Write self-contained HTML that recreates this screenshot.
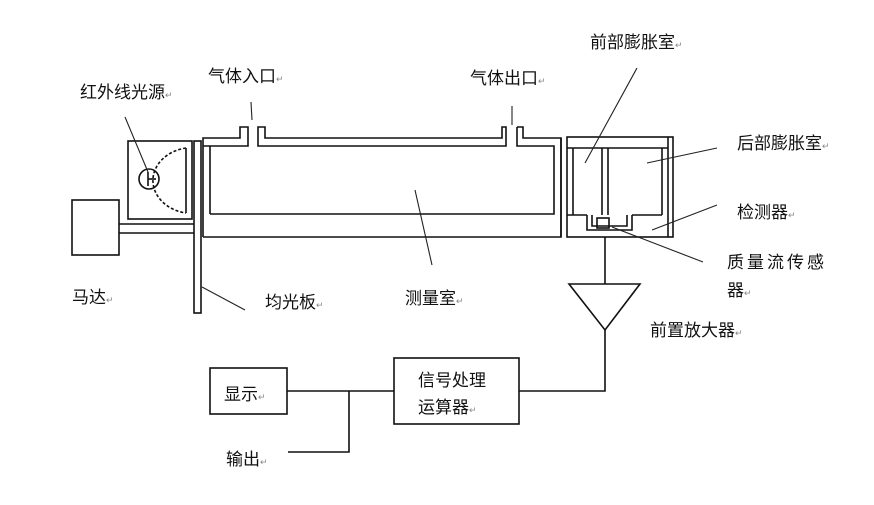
<!DOCTYPE html>
<html><head><meta charset="utf-8"><style>
body{margin:0;background:#fff;}
svg text{font-family:"Liberation Sans","Noto Sans CJK SC",sans-serif;font-size:17px;fill:#111;}
.r{font-size:9px;fill:#888;}
</style></head><body>
<svg width="874" height="500" viewBox="0 0 874 500" xmlns="http://www.w3.org/2000/svg">
<g stroke="#111" stroke-width="1.6" fill="none">
<rect x="72" y="200" width="47" height="55"/>
<line x1="119" y1="224" x2="194" y2="224"/><line x1="119" y1="233" x2="194" y2="233"/>
<rect x="128" y="141" width="64" height="78"/>
<line x1="186" y1="148" x2="186" y2="213"/>
<path d="M186 148 A40 33 0 0 0 186 213" stroke-dasharray="3,2"/>
<circle cx="149" cy="179" r="10"/>
<line x1="148" y1="172" x2="148" y2="186"/><line x1="148" y1="179" x2="156" y2="179"/>
<rect x="194" y="141" width="7" height="172"/>
<!-- tube walls -->
<path d="M203 237 V138 H240 V127 H248 V146 H203"/>
<line x1="210" y1="146" x2="210" y2="214"/>
<path d="M258 127 H265 V138 H502 V127 H506 V146 H258 Z"/>
<path d="M517 127 H523 V138 H561 V237 H203"/>
<path d="M517 127 V146 H554 V214 H210"/>
<line x1="561" y1="138" x2="561" y2="237"/>
<!-- chamber -->
<rect x="567" y="137" width="106" height="100"/>
<line x1="567" y1="148" x2="668" y2="148"/>
<line x1="573" y1="148" x2="573" y2="215"/>
<line x1="602" y1="148" x2="602" y2="215"/><line x1="608" y1="148" x2="608" y2="215"/>
<line x1="662" y1="148" x2="662" y2="215"/><line x1="668" y1="137" x2="668" y2="237"/>
<line x1="567" y1="215" x2="587" y2="215"/><line x1="632" y1="215" x2="662" y2="215"/>
<path d="M587 215 V230 H632 V215"/>
<path d="M592 215 V226 H627 V215"/>
<rect x="597" y="218" width="12" height="10"/>
<line x1="605" y1="237" x2="605" y2="284"/>
<path d="M569 284 H640 L605 330 Z"/>
<path d="M605 330 V391 H519"/>
<rect x="394" y="358" width="125" height="66"/>
<rect x="210" y="368" width="77" height="46"/>
<line x1="287" y1="391" x2="394" y2="391"/>
<path d="M349 391 V452 H288"/>
</g>
<g stroke="#222" stroke-width="1.1">
<line x1="125" y1="117" x2="148" y2="172"/>
<line x1="251" y1="102" x2="252" y2="120"/>
<line x1="512" y1="106" x2="512" y2="125"/>
<line x1="415" y1="190" x2="432" y2="265"/>
<line x1="637" y1="68" x2="585" y2="163"/>
<line x1="717" y1="148" x2="647" y2="163"/>
<line x1="717" y1="205" x2="652" y2="230"/>
<line x1="703" y1="262" x2="612" y2="227"/>
<line x1="202" y1="287" x2="245" y2="310"/>
</g>
<text x="590" y="48">前部膨胀室<tspan class="r">↵</tspan></text>
<text x="208" y="82">气体入口<tspan class="r">↵</tspan></text>
<text x="470" y="84">气体出口<tspan class="r">↵</tspan></text>
<text x="80" y="98">红外线光源<tspan class="r">↵</tspan></text>
<text x="737" y="149">后部膨胀室<tspan class="r">↵</tspan></text>
<text x="737" y="218">检测器<tspan class="r">↵</tspan></text>
<text x="727" y="268" letter-spacing="3">质量流传感</text>
<text x="727" y="296">器<tspan class="r">↵</tspan></text>
<text x="72" y="303">马达<tspan class="r">↵</tspan></text>
<text x="265" y="308">均光板<tspan class="r">↵</tspan></text>
<text x="405" y="304">测量室<tspan class="r">↵</tspan></text>
<text x="650" y="336">前置放大器<tspan class="r">↵</tspan></text>
<text x="418" y="386">信号处理</text>
<text x="418" y="413">运算器<tspan class="r">↵</tspan></text>
<text x="224" y="400">显示<tspan class="r">↵</tspan></text>
<text x="226" y="465">输出<tspan class="r">↵</tspan></text>
</svg>
</body></html>
